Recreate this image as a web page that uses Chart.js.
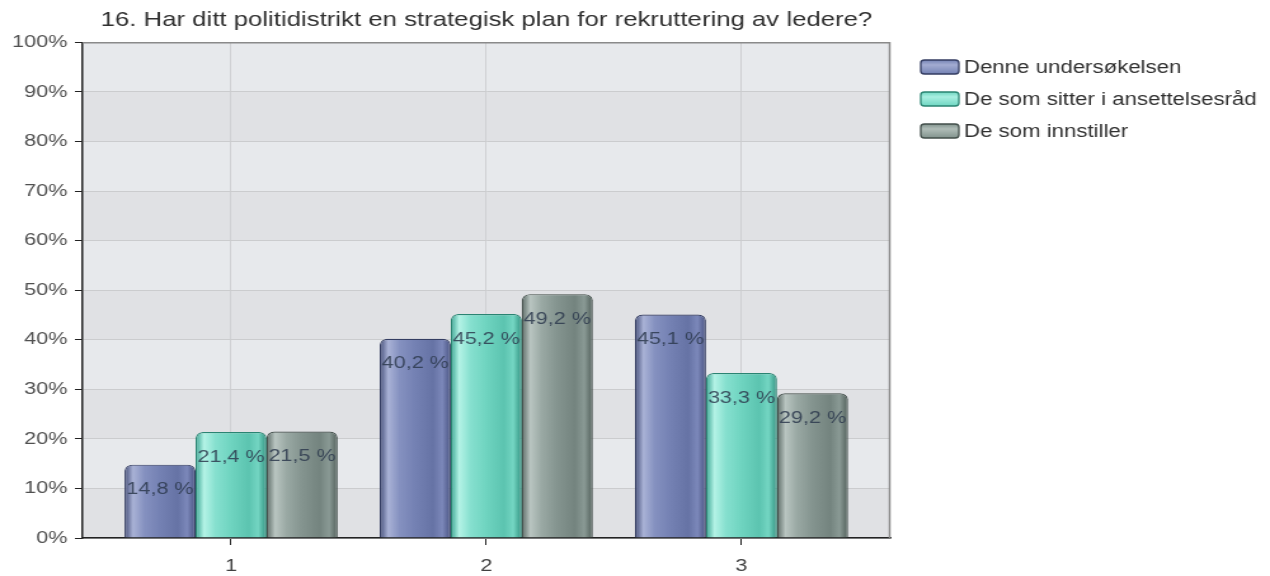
<!DOCTYPE html>
<html>
<head>
<meta charset="utf-8">
<script src="https://cdn.jsdelivr.net/npm/chart.js@4/dist/chart.umd.min.js"></script>
<style>
html,body{margin:0;padding:0;background:#fff;overflow:hidden;}
#wrap{position:relative;width:1270px;height:576px;overflow:hidden;}
#c{position:absolute;left:0;top:0;transform-origin:0 0;transform:scaleX(1.27);}
</style>
</head>
<body>
<div id="wrap"><canvas id="c" width="1000" height="576" style="width:1000px;height:576px"></canvas></div>
<script>
// ---- data ----
const titleText = '16. Har ditt politidistrikt en strategisk plan for rekruttering av ledere?';
const categories = ['1', '2', '3'];
const seriesNames = ['Denne undersøkelsen', 'De som sitter i ansettelsesråd', 'De som innstiller'];
const denneUndersokelsen = [14.8, 40.2, 45.1];
const ansettelsesrad = [21.4, 45.2, 33.3];
const innstiller = [21.5, 49.2, 29.2];
const yTickValues = [0, 10, 20, 30, 40, 50, 60, 70, 80, 90, 100];

// ---- styles ----
const FONT = "'Liberation Sans', Arial, Helvetica, sans-serif";
const CAT_PCT = 0.835;
const palettes = [
  { border: '#343d62', flat: '#7482b4', light: '#a3acd2', stops: ['#434d78', '#a9b2d6', '#8591c0', '#7481b3', '#6673a5', '#7c88ba', '#485281'] },
  { border: '#2a8472', flat: '#6fd6c2', light: '#a9efe1', stops: ['#39a592', '#b4f3e6', '#86e0cf', '#6fd4c0', '#5cc4b0', '#74d6c3', '#2f917f'] },
  { border: '#434f4b', flat: '#82938d', light: '#b0bdb8', stops: ['#5c6b66', '#b9c5c1', '#9aa9a4', '#84948f', '#74847f', '#8a9a95', '#505e59'] }
];
const stopPos = [0, 0.12, 0.28, 0.5, 0.75, 0.88, 1];

const allSeries = [denneUndersokelsen, ansettelsesrad, innstiller];

function barGradient(ctx) {
  const p = palettes[ctx.datasetIndex];
  if (ctx.type !== 'data') return p.flat;
  const chart = ctx.chart;
  const xs = chart.scales.x;
  if (!xs || !chart.chartArea) return p.flat;
  const spacing = Math.abs(xs.getPixelForValue(2) - xs.getPixelForValue(1));
  const groupW = spacing * CAT_PCT;
  const barW = groupW / allSeries.length;
  const left = xs.getPixelForValue(ctx.dataIndex + 1) - groupW / 2 + ctx.datasetIndex * barW;
  if (!isFinite(left) || !isFinite(barW) || barW <= 0) return p.flat;
  const g = chart.ctx.createLinearGradient(left, 0, left + barW, 0);
  p.stops.forEach((c, i) => g.addColorStop(stopPos[i], c));
  return g;
}

// plot background bands + border
const bandsPlugin = {
  id: 'bands',
  beforeDraw(chart) {
    const { ctx, chartArea: a, scales: { y } } = chart;
    ctx.save();
    for (let i = 0; i < yTickValues.length - 1; i++) {
      const y0 = y.getPixelForValue(yTickValues[i]);
      const y1 = y.getPixelForValue(yTickValues[i + 1]);
      ctx.fillStyle = (i % 2 === 1) ? '#e7e9ec' : '#e0e1e4';
      ctx.fillRect(a.left, y1, a.right - a.left, y0 - y1);
    }
    ctx.restore();
  },
  afterDraw(chart) {
    const { ctx, chartArea: a } = chart;
    ctx.save();
    ctx.strokeStyle = '#8a8a8a';
    ctx.lineWidth = 1.5;
    ctx.beginPath();
    ctx.moveTo(a.left, a.top + 0.5);
    ctx.lineTo(a.right - 0.5, a.top + 0.5);
    ctx.lineTo(a.right - 0.5, a.bottom);
    ctx.stroke();
    ctx.restore();
  }
};

// legend to the right of the plot
const sideLegend = {
  id: 'sideLegend',
  afterDraw(chart) {
    const { ctx, chartArea: a } = chart;
    const bx = a.right + 24, bw = 30, bh = 14, rowH = 32, firstY = 67;
    ctx.save();
    ctx.font = '17.5px ' + FONT;
    ctx.textBaseline = 'middle';
    ctx.textAlign = 'left';
    chart.data.datasets.forEach((ds, i) => {
      const p = palettes[i];
      const cy = firstY + i * rowH;
      const top = cy - bh / 2;
      const g = ctx.createLinearGradient(0, top, 0, top + bh);
      g.addColorStop(0, p.flat);
      g.addColorStop(0.35, p.light);
      g.addColorStop(1, p.flat);
      ctx.beginPath();
      ctx.roundRect(bx, top, bw, bh, 3);
      ctx.fillStyle = g;
      ctx.fill();
      ctx.lineWidth = 1.3;
      ctx.strokeStyle = p.border;
      ctx.stroke();
      ctx.fillStyle = '#303030';
      ctx.fillText(ds.label, bx + bw + 4, cy + 1);
    });
    ctx.restore();
  }
};

// value labels inside bars
const valueLabels = {
  id: 'valueLabels',
  afterDatasetsDraw(chart) {
    const { ctx } = chart;
    ctx.save();
    ctx.font = '17px ' + FONT;
    ctx.fillStyle = 'rgba(45,58,78,0.85)';
    ctx.textAlign = 'center';
    ctx.textBaseline = 'middle';
    chart.data.datasets.forEach((ds, di) => {
      const meta = chart.getDatasetMeta(di);
      meta.data.forEach((bar, i) => {
        const v = ds.data[i].y;
        const txt = v.toFixed(1).replace('.', ',') + ' %';
        ctx.fillText(txt, bar.x, bar.y + 25);
      });
    });
    ctx.restore();
  }
};

const datasets = allSeries.map((arr, di) => ({
  label: seriesNames[di],
  data: arr.map((v, i) => ({ x: i + 1, y: v })),
  backgroundColor: barGradient,
  borderColor: palettes[di].border,
  borderWidth: 1.2,
  borderSkipped: 'bottom',
  borderRadius: { topLeft: 6, topRight: 6, bottomLeft: 0, bottomRight: 0 },
  categoryPercentage: CAT_PCT,
  barPercentage: 1.0
}));

new Chart(document.getElementById('c'), {
  type: 'bar',
  data: { datasets },
  plugins: [bandsPlugin, valueLabels, sideLegend],
  options: {
    responsive: false,
    animation: false,
    layout: { padding: { left: 0, right: 299, top: 0, bottom: 0 } },
    plugins: {
      title: {
        display: true,
        text: titleText,
        color: '#303030',
        font: { family: FONT, size: 20.3, weight: 'normal' },
        padding: { top: 8, bottom: 10 },
        fullSize: false
      },
      legend: { display: false },
      tooltip: { enabled: false }
    },
    scales: {
      x: {
        type: 'linear',
        min: 0.418,
        max: 3.583,
        offset: false,
        afterBuildTicks(scale) {
          scale.ticks = categories.map((c, i) => ({ value: i + 1 }));
        },
        afterFit(scale) { scale.height = 38; },
        ticks: {
          color: '#404040',
          font: { family: FONT, size: 17 },
          padding: 11,
          callback: (v) => categories[v - 1]
        },
        grid: { offset: false, color: '#cfd0d3', lineWidth: 1, tickColor: '#222', tickLength: 7 },
        border: { color: '#222', width: 1.5 }
      },
      y: {
        min: 0,
        max: 100,
        afterBuildTicks(scale) {
          scale.ticks = yTickValues.map(v => ({ value: v }));
        },
        afterFit(scale) { scale.width = 65; },
        ticks: {
          color: '#505050',
          font: { family: FONT, size: 17 },
          padding: 6,
          callback: (v) => v + '%'
        },
        grid: { color: '#cbccce', lineWidth: 1, tickColor: '#222', tickLength: 6 },
        border: { color: '#222', width: 1.5 }
      }
    }
  }
});
</script>
</body>
</html>
